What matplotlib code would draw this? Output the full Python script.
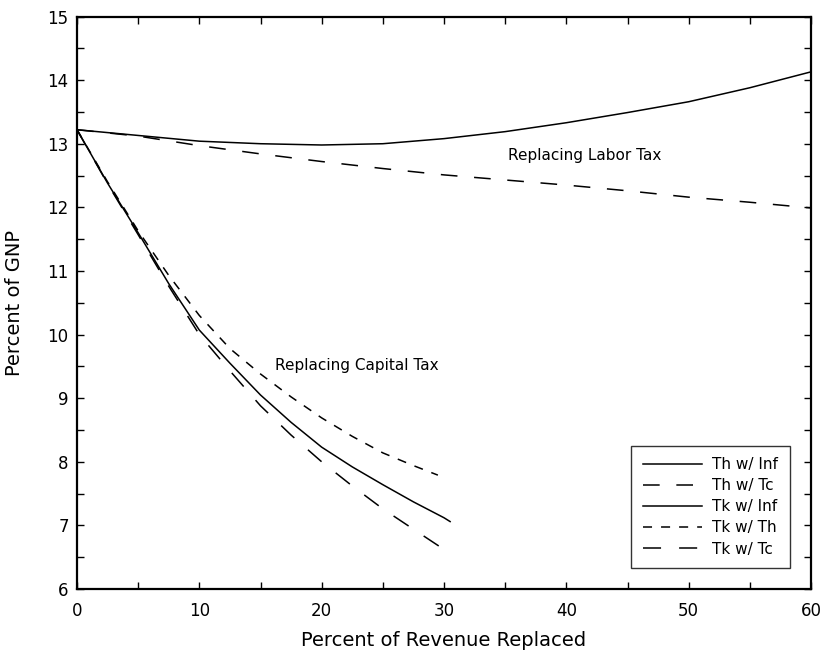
import matplotlib
matplotlib.use("Agg")
import matplotlib.pyplot as plt

plt.rcParams['font.family'] = ['DejaVu Sans']
plt.rcParams['lines.scale_dashes'] = False

# Replacing labor tax (percent of revenue replaced vs. percent of GNP)
labor_x = [0, 5, 10, 15, 20, 25, 30, 35, 40, 45, 50, 55, 60]
th_inf = [13.22, 13.13, 13.04, 13.00, 12.98, 13.00, 13.08, 13.19, 13.33, 13.49, 13.66, 13.88, 14.13]
th_tc = [13.22, 13.12, 12.97, 12.84, 12.72, 12.61, 12.51, 12.43, 12.35, 12.26, 12.16, 12.08, 11.99]

# Replacing capital tax
tk_inf_x = [0, 2.5, 5, 7.5, 10, 12.5, 15, 17.5, 20, 22.5, 25, 27.5, 30, 30.5]
tk_inf = [13.22, 12.38, 11.60, 10.80, 10.07, 9.55, 9.05, 8.62, 8.23, 7.92, 7.64, 7.37, 7.12, 7.06]

tk_th_x = [0, 2.5, 5, 7.5, 10, 12.5, 15, 17.5, 20, 22.5, 25, 27.5, 29.5]
tk_th = [13.22, 12.40, 11.63, 10.93, 10.30, 9.78, 9.38, 9.02, 8.69, 8.40, 8.14, 7.94, 7.79]

tk_tc_x = [0, 2.5, 5, 7.5, 10, 12.5, 15, 17.5, 20, 22.5, 25, 27.5, 29.7]
tk_tc = [13.22, 12.37, 11.57, 10.76, 10.00, 9.43, 8.88, 8.42, 8.00, 7.62, 7.26, 6.94, 6.66]

x_ticks = [0, 10, 20, 30, 40, 50, 60]
y_ticks = [6, 7, 8, 9, 10, 11, 12, 13, 14, 15]

fig = plt.figure(figsize=(8.24, 6.56), dpi=100)
ax = fig.add_axes([77 / 824, 1 - 589 / 656, 734 / 824, 572.5 / 656])

lw = 1.1
ax.plot(labor_x, th_inf, color='black', lw=lw, label='Th w/ Inf')
ax.plot(labor_x, th_tc, color='black', lw=lw, dashes=(12, 12), label='Th w/ Tc')
ax.plot(tk_inf_x, tk_inf, color='black', lw=lw, label='Tk w/ Inf')
ax.plot(tk_th_x, tk_th, color='black', lw=lw, dashes=(6.5, 6.5), label='Tk w/ Th')
ax.plot(tk_tc_x, tk_tc, color='black', lw=lw, dashes=(13, 13), label='Tk w/ Tc')

ax.set_xlim(0, 60)
ax.set_ylim(6, 15)
ax.set_xticks(x_ticks)
ax.set_xticks([5, 15, 25, 35, 45, 55], minor=True)
ax.set_yticks(y_ticks)
ax.set_yticks([6.5, 7.5, 8.5, 9.5, 10.5, 11.5, 12.5, 13.5, 14.5], minor=True)
ax.tick_params(which='both', direction='in', top=True, right=True,
               length=5, width=1.0, labelsize=12)
ax.tick_params(axis='x', which='major', pad=9)
ax.tick_params(axis='y', which='major', pad=6)
for s in ax.spines.values():
    s.set_linewidth(1.6)

ax.set_xlabel('Percent of Revenue Replaced', fontsize=14, labelpad=8)
ax.set_ylabel('Percent of GNP', fontsize=14, labelpad=17)

ax.text(35.2, 12.82, 'Replacing Labor Tax', fontsize=11, va='center', ha='left')
ax.text(16.2, 9.52, 'Replacing Capital Tax', fontsize=11, va='center', ha='left')

leg = ax.legend(loc='lower right', bbox_to_anchor=(0.971, 0.0367), fontsize=11,
                frameon=True, fancybox=False, edgecolor='black', handlelength=3.9,
                handletextpad=0.65, labelspacing=0.4, borderpad=0.75,
                borderaxespad=0)
leg.get_frame().set_linewidth(1.0)

fig.savefig('out.png', dpi=100)
